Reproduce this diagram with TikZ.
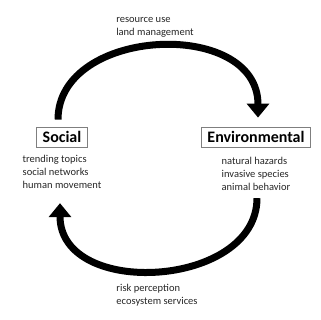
\documentclass[tikz,border=0pt]{standalone}
\usepackage{fontspec}
\setmainfont{Carlito}
\usepackage{xcolor}
\definecolor{boxgray}{HTML}{7F7F7F}
\definecolor{inkgray}{HTML}{262626}
\usepackage{tikz}
\usetikzlibrary{arrows.meta,positioning}

\begin{document}
\begin{tikzpicture}[x=1pt,y=1pt,
  realm/.style={draw=boxgray,line width=0.8pt,inner xsep=6pt,minimum height=20pt,font=\fontsize{16}{18}\selectfont\bfseries,text=black},
  items/.style={align=left,font=\fontsize{10.5}{13}\selectfont,text=inkgray,inner sep=1pt},
  flow/.style={-{Triangle[width=22pt,length=14pt]},line width=7pt,draw=black}
]
\useasboundingbox (0,0) rectangle (320,320);
\node[realm] (social) at (62,183) {Social};
\node[realm] (env) at (256,183) {Environmental};
\node[items,below=7pt of social] (socitems) {trending topics\\social networks\\human movement};
\node[items,below=9pt of env] (envitems) {natural hazards\\invasive species\\animal behavior};
\node[items] (toplabel) at (155,293) {resource use\\land management};
\node[items] (botlabel) at (157,25) {risk perception\\ecosystem services};
\draw[flow,shorten <=7pt] ([xshift=-4pt]social.north) .. controls +(0,100) and +(0,100) .. ([xshift=2pt,yshift=9pt]env.north);
\draw[flow,shorten <=6pt] ([xshift=1pt]envitems.south) .. controls +(0,-96) and +(0,-96) .. ([xshift=-2pt,yshift=-13pt]socitems.south);
\end{tikzpicture}
\end{document}
